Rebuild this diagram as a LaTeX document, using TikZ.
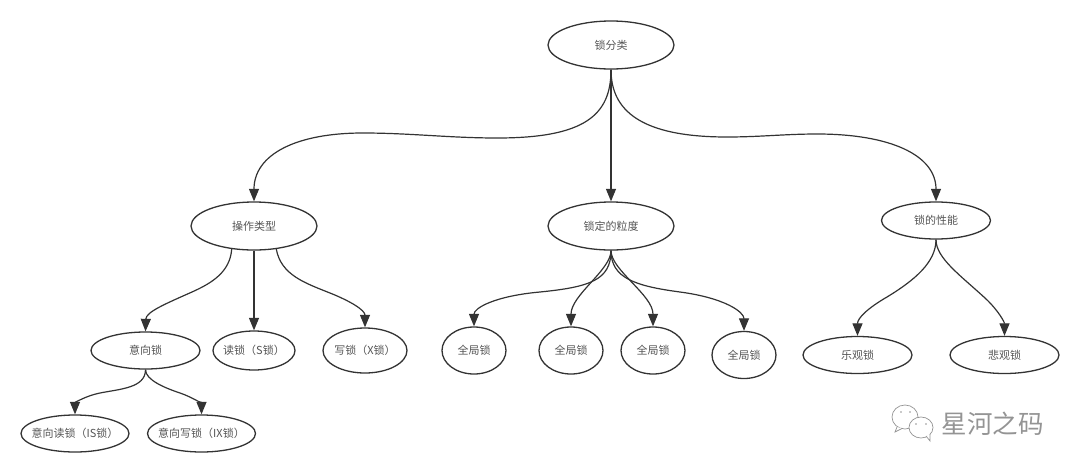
\documentclass[tikz,border=0pt]{standalone}
\usepackage{fontspec}
\setmainfont{Noto Sans CJK SC}
\usetikzlibrary{shapes.geometric,arrows.meta}
\definecolor{ln}{HTML}{333333}
\definecolor{tx}{HTML}{555555}
\tikzset{
  el/.style={ellipse,draw=ln,line width=1.3pt,fill=white,text=tx,font=\fontsize{11}{13}\selectfont,inner xsep=-30pt,inner ysep=-6pt},
  conn/.style={draw=ln,line width=1.2pt,-{Triangle[length=12.5pt,width=10pt]}},
  wmline/.style={draw=black!42,line width=0.7pt,fill=white},
}
\newcommand{\elnode}[6]{\node[el,minimum width=#4pt,minimum height=#5pt] (#1) at (#2,#3) {#6};}
\begin{document}
\begin{tikzpicture}[x=1pt,y=-1pt]
\useasboundingbox (0,0) rectangle (1080,472);
\elnode{root}{611}{45}{126}{48}{锁分类}
\elnode{op}{254}{226}{126}{48}{操作类型}
\elnode{gr}{611}{226}{126}{48}{锁定的粒度}
\elnode{pf}{936}{220.5}{109}{37}{锁的性能}
\elnode{yx}{145.5}{350.5}{109}{37}{意向锁}
\elnode{rd}{254}{350.5}{82}{39}{读锁（S锁）}
\elnode{wr}{365}{350.5}{84}{45}{写锁（X锁）}
\elnode{is}{75}{433.5}{108}{37}{意向读锁（IS锁）}
\elnode{ix}{201.5}{433.5}{108}{37}{意向写锁（IX锁）}
\elnode{g1}{474}{350.5}{64}{47}{全局锁}
\elnode{g2}{571}{350.5}{64}{47}{全局锁}
\elnode{g3}{653}{350.5}{64}{47}{全局锁}
\elnode{g4}{744}{355}{64}{47}{全局锁}
\elnode{lg}{857.5}{355}{109}{37}{乐观锁}
\elnode{bg}{1004.5}{355}{109}{37}{悲观锁}

\draw[conn] (root.south) .. controls (611,115) and (585,138) .. (497,138) .. controls (450,138) and (410,133) .. (363,133) .. controls (295,133) and (254,155) .. (op.north);
\draw[conn] (root.south) -- (gr.north);
\draw[conn] (root.south) .. controls (611,110) and (640,137) .. (727,137) .. controls (760,137) and (785,134) .. (817,134) .. controls (890,134) and (936,155) .. (pf.north);

\draw[conn] (op.226) .. controls (230,272) and (212,283) .. (192,292) .. controls (165,304) and (146,312) .. (yx.north);
\draw[conn] (op.south) -- (rd.north);
\draw[conn] (op.314) .. controls (281,275) and (305,283) .. (330,293) .. controls (350,301) and (365,310) .. (wr.north);

\draw[conn] (gr.south) .. controls (611,280) and (590,287) .. (540,292) .. controls (495,296) and (474,308) .. (g1.north);
\draw[conn] (gr.south) .. controls (611,270) and (571,295) .. (g2.north);
\draw[conn] (gr.south) .. controls (611,270) and (653,295) .. (g3.north);
\draw[conn] (gr.south) .. controls (611,278) and (635,286) .. (680,292) .. controls (725,298) and (744,312) .. (g4.north);

\draw[conn] (pf.south) .. controls (936,262) and (915,280) .. (887,297) .. controls (868,308) and (857.5,318) .. (lg.north);
\draw[conn] (pf.south) .. controls (936,258) and (960,275) .. (985,298) .. controls (998,310) and (1004.5,322) .. (bg.north);

\draw[conn] (yx.south) .. controls (145.5,388) and (120,389) .. (100,393) .. controls (85,396) and (75,403) .. (is.north);
\draw[conn] (yx.south) .. controls (145.5,380) and (165,388) .. (180,393) .. controls (192,397) and (201.5,404) .. (ix.north);

% watermark
\path[wmline] (905,417) ellipse (13 and 12);
\path[wmline] (897,427) -- (895,432) -- (902,428.5);
\path[wmline] (921,427.5) ellipse (12 and 10.5);
\path[wmline] (926,436) -- (930,441) -- (930,434);
\fill[black!42] (901,412) circle (0.9) (910,412) circle (0.9) (916,424) circle (0.9) (926,424) circle (0.9);
\node[text=black!42,font=\fontsize{25.5}{28}\selectfont,inner sep=0pt] (wm) at (992.5,424) {星河之码};
\end{tikzpicture}
\end{document}
